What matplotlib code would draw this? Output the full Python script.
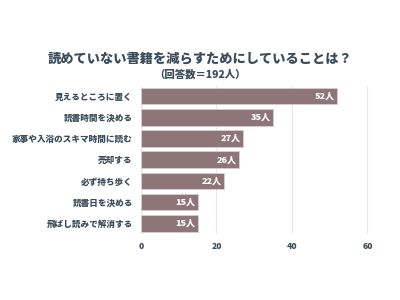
import matplotlib.pyplot as plt

plt.rcParams['font.family'] = ['Noto Sans CJK JP', 'DejaVu Sans']

labels = ["見えるところに置く", "読書時間を決める", "家事や入浴のスキマ時間に読む",
          "売却する", "必ず持ち歩く", "読書日を決める", "飛ばし読みで解消する"]
values = [52, 35, 27, 26, 22, 15, 15]
xticks = [0, 20, 40, 60]

bar_color = "#8e7577"
text_color = "#3b4d5a"

fig = plt.figure(figsize=(4, 3), dpi=100)
ax = fig.add_axes([0.3525, 0.22, 0.585, 0.495])

y = list(range(len(values)))
bars = ax.barh(y, values, height=0.78, color=bar_color, edgecolor="#d9cfd0",
               linewidth=0.6, zorder=3)
for b, v in zip(bars, values):
    ax.text(v - 0.6, b.get_y() + b.get_height() / 2, f"{v}人", ha="right",
            va="center", color="white", fontsize=6.5, fontweight="black", zorder=4)

ax.set_xlim(0, 62)
ax.set_ylim(len(values) - 0.5, -0.5)
ax.set_yticks(y)
ax.set_yticklabels(labels, fontsize=6.2, fontweight="black", color=text_color)
ax.set_xticks(xticks)
ax.set_xticklabels([str(t) for t in xticks], fontsize=6.2, fontweight="black",
                   color=text_color)
ax.tick_params(length=0, pad=6)
ax.grid(axis="x", color="#e8e8e8", linewidth=0.8, zorder=0)
for s in ax.spines.values():
    s.set_visible(False)

fig.text(0.5, 0.805, "読めていない書籍を減らすためにしていることは？", ha="center",
         va="center", fontsize=9.5, fontweight="black", color=text_color)
fig.text(0.5, 0.753, "（回答数＝192人）", ha="center", va="center",
         fontsize=7.5, fontweight="black", color=text_color)

fig.savefig("out.png", dpi=100)
